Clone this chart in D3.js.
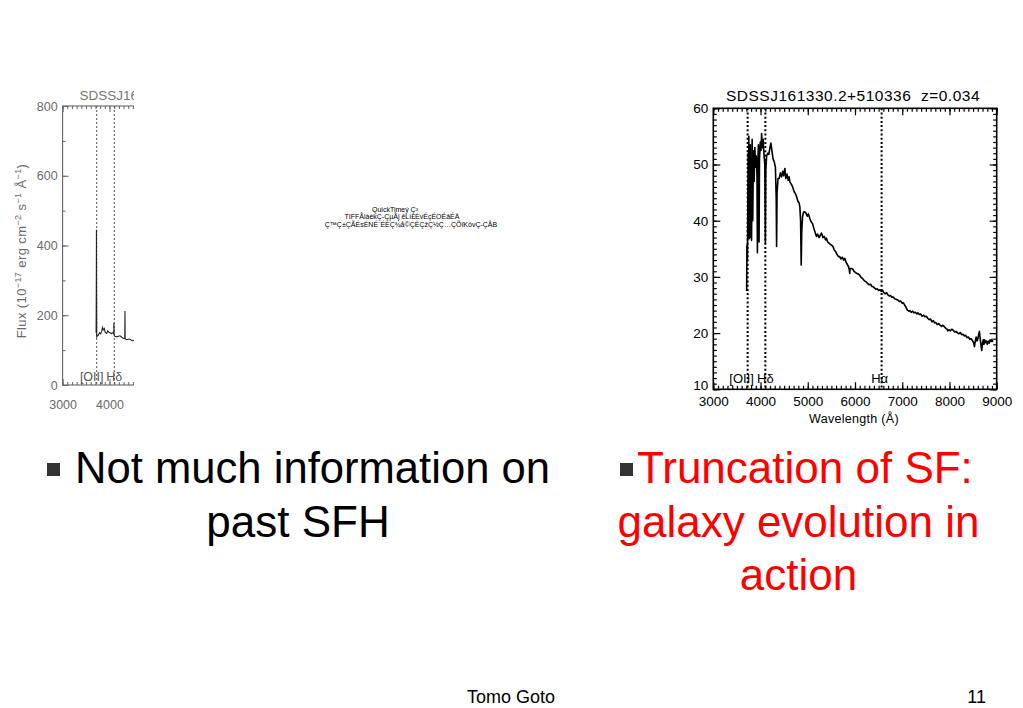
<!DOCTYPE html>
<html><head><meta charset="utf-8">
<script src="https://cdn.jsdelivr.net/npm/d3@7"></script>
<style>
body{margin:0;background:#fff}
svg{display:block}
text{font-family:"Liberation Sans",Arial,Helvetica,sans-serif;white-space:pre}
</style>
</head><body>
<svg id="c" width="1023" height="708"></svg>
<script>
// ---------------- data ----------------
const rightWave = [3706,3712,3720,3728,3738,3745,3752,3760,3768,3776,3784,3792,3800,3810,3822,3835,3850,3865,3880,3895,3910,3925,3934,3942,3955,3969,3978,3995,4010,4023,4040,4055,4075,4090,4102,4112,4128,4150,4175,4200,4219,4240,4265,4290,4315,4332,4340,4350,4370,4394,4420,4445,4470,4490,4515,4535,4560,4585,4605,4621,4650,4680,4710,4740,4762,4790,4815,4832,4848,4861,4872,4890,4910,4937,4960,4990,5015,5043,5070,5100,5130,5160,5185,5210,5240,5265,5290,5320,5350,5375,5396,5420,5450,5480,5510,5535,5560,5590,5620,5650,5677,5700,5730,5760,5783,5810,5840,5865,5880,5888,5896,5924,5950,5980,6010,6040,6070,6100,6130,6160,6190,6215,6241,6270,6300,6330,6355,6380,6416,6440,6470,6500,6530,6558,6585,6610,6640,6670,6697,6725,6750,6780,6810,6840,6870,6909,6940,6970,7000,7025,7050,7080,7110,7140,7160,7190,7220,7250,7280,7310,7331,7360,7390,7420,7450,7480,7510,7543,7570,7600,7630,7660,7684,7710,7740,7770,7800,7830,7860,7895,7925,7950,7965,7990,8020,8050,8080,8110,8140,8176,8200,8230,8260,8290,8318,8345,8370,8400,8430,8460,8490,8510,8529,8545,8565,8585,8600,8620,8635,8650,8665,8684,8700,8715,8730,8745,8760,8780,8800,8820,8840,8860,8882,8900,8916];
const rightFlux = [27.5,35.6,33.0,38.5,52.0,40.0,55.0,36.8,50.5,38.0,53.5,37.0,51.0,36.5,54.5,40.0,52.5,47.0,53.0,49.5,51.5,48.0,34.3,50.0,53.5,36.2,51.0,54.0,52.5,55.5,53.0,54.5,51.5,50.0,36.0,49.0,51.4,52.0,51.8,53.0,53.8,52.5,51.0,50.5,49.5,44.0,35.4,45.0,47.5,47.5,48.5,47.8,48.8,48.0,49.3,47.5,48.3,47.2,47.8,46.9,46.5,46.0,45.2,44.8,44.3,43.5,43.2,42.5,40.0,32.1,38.0,40.8,41.5,41.6,41.4,40.8,41.2,40.4,39.8,39.5,38.6,37.8,37.2,37.6,37.0,37.4,37.8,37.0,37.2,36.6,36.9,36.2,36.0,35.8,35.6,35.4,34.8,34.5,34.0,33.6,33.6,33.2,33.5,33.0,33.3,32.6,32.2,31.8,31.2,30.6,31.5,31.5,31.4,31.0,30.8,30.6,30.5,30.3,29.9,29.7,29.4,29.2,29.1,28.8,28.6,28.7,28.3,28.3,28.0,27.8,27.9,27.6,27.7,27.4,27.6,27.2,27.0,27.2,26.8,26.6,26.7,26.4,26.4,26.1,26.0,25.9,25.6,25.7,25.3,25.4,25.0,24.6,24.1,23.9,24.0,23.7,23.9,23.6,23.7,23.4,23.6,23.3,23.4,23.0,23.2,22.9,23.0,22.6,22.4,22.5,22.0,22.2,21.8,21.9,21.5,21.7,21.4,21.2,21.4,21.1,20.8,20.7,20.4,20.6,20.4,20.7,20.5,20.2,20.3,20.0,19.9,20.1,19.7,19.8,19.5,19.6,19.2,19.3,18.9,19.0,18.6,18.3,17.6,18.5,19.3,18.6,18.9,19.8,20.3,19.0,18.0,16.9,18.2,18.8,18.0,18.8,18.3,18.6,18.0,18.6,18.2,18.8,18.5,18.9,18.4];

const leftWave = [3714,3716,3719,3722,3725,3728,3740,3761,3790,3810,3834,3850,3868,3890,3910,3940,3960,3985,4011,4040,4060,4081,4090,4094,4098,4110,4153,4190,4224,4260,4294,4320,4326,4330,4334,4367,4400,4437,4470,4495,4540];
const leftFlux = [150,200,300,445,260,138,140,143,150,147,153,165,158,162,150,148,155,152,150,147,150,148,147,178,146,140,138,140,141,137,134,133,134,212,133,130,131,131,128,127,128];

const lineWaves = [3727, 4102, 6563];
const rightLineLabels = ["[OII]", "Hδ", "Hα"];
const leftLineLabels = ["[OII]", "Hδ"];
const xTickValues = [3000,4000,5000,6000,7000,8000,9000];
const xTickLabels = ["3000","4000","5000","6000","7000","8000","9000"];
const yTicksRight = [10,20,30,40,50,60];
const yTicksLeft = [0,200,400,600,800];
const rightTitle = "SDSSJ161330.2+510336  z=0.034";
const leftTitle = "SDSSJ16";
const placeholderLines = ["QuickTimeý Ç²", "TIFFÅiàèkÇ-ÇµÅj êLí£ÉvÉçÉOÉâÉÄ", "Ç™Ç±ÇÃÉsÉNÉ`ÉÉÇ¾å©ÇÈÇžÇ½Ç…ÇÕïKóvÇ-ÇÅB"];
const leftBullet = ["Not much information on", "past SFH"];
const rightBullet = ["Truncation of SF:", "galaxy evolution in", "action"];
const footerName = "Tomo Goto";
const pageNumber = "11";

// ---------------- drawing ----------------
const svg = d3.select("#c");
svg.append("rect").attr("width",1023).attr("height",708).attr("fill","#fff");

function frame(g, x, y, o){
  const [x0,x1]=x.range(), [y1,y0]=y.range();
  const mk = (axis, tr) => {
    const a = g.append("g").attr("transform",tr).call(axis);
    a.select(".domain").remove();
    a.selectAll("line").attr("stroke",o.color).attr("stroke-width",o.tw);
    a.selectAll("text").attr("fill",o.textColor).attr("font-size",o.fs).attr("font-family",null);
    return a;
  };
  mk(d3.axisBottom(x).tickValues(o.xMinor).tickSize(-o.minor).tickFormat(""), `translate(0,${y1})`);
  mk(d3.axisTop(x).tickValues(o.xMinor).tickSize(-o.minor).tickFormat(""), `translate(0,${y0})`);
  mk(d3.axisLeft(y).tickValues(o.yMinor).tickSize(-o.minor).tickFormat(""), `translate(${x0},0)`);
  mk(d3.axisRight(y).tickValues(o.yMinor).tickSize(-o.minor).tickFormat(""), `translate(${x1},0)`);
  mk(d3.axisBottom(x).tickValues(xTickValues).tickSize(-o.major).tickPadding(o.xPad).tickFormat((d,i)=>xTickLabels[i]), `translate(0,${y1})`);
  mk(d3.axisTop(x).tickValues(xTickValues).tickSize(-o.major).tickFormat(""), `translate(0,${y0})`);
  const ya = mk(d3.axisLeft(y).tickValues(o.yMajor).tickSize(-o.major).tickPadding(o.yPad).tickFormat(d3.format("d")), `translate(${x0},0)`);
  if (o.lowLabelDy) ya.selectAll("text").filter(d=>d===o.yMajor[0]).attr("dy", o.lowLabelDy);
  mk(d3.axisRight(y).tickValues(o.yMajor).tickSize(-o.major).tickFormat(""), `translate(${x1},0)`);
  g.append("rect").attr("x",x0).attr("y",y0).attr("width",x1-x0).attr("height",y1-y0)
    .attr("fill","none").attr("stroke",o.color).attr("stroke-width",o.fw);
}

// ----- right chart -----
const xR = d3.scaleLinear().domain([3000,9000]).range([713.3,996.7]);
const yR = d3.scaleLinear().domain([10,60]).range([389.3,108.3]);
const gR = svg.append("g");
frame(gR, xR, yR, {color:"#000", textColor:"#000", tw:1.2, fw:1.6, fs:13.5, major:7, minor:3.5,
  xMinor:d3.range(3000,9001,100), yMinor:d3.range(10,61,1), yMajor:yTicksRight, xPad:7.5, yPad:5, lowLabelDy:"0.02em"});
gR.selectAll(".lines").data(lineWaves).join("line")
  .attr("x1",d=>xR(d)).attr("x2",d=>xR(d)).attr("y1",yR(60)).attr("y2",yR(10))
  .attr("stroke","#000").attr("stroke-width",2).attr("stroke-dasharray","2,2.2");
const rOff=[-6,0,-2];
gR.selectAll(".ll").data(rightLineLabels).join("text")
  .attr("x",(d,i)=>xR(lineWaves[i])+rOff[i]).attr("y",383).attr("text-anchor","middle")
  .attr("font-size",13).attr("fill","#000").text(d=>d);
gR.append("path").datum(rightWave.map((w,i)=>[w,rightFlux[i]]))
  .attr("fill","none").attr("stroke","#000").attr("stroke-width",1.6).attr("stroke-linejoin","round")
  .attr("d", d3.line().x(d=>xR(d[0])).y(d=>yR(d[1])));
gR.append("text").attr("x",853).attr("y",101).attr("text-anchor","middle").attr("font-size",15.5)
  .attr("letter-spacing",0.5).attr("fill","#000").text(rightTitle);
gR.append("text").attr("x",854).attr("y",423).attr("text-anchor","middle").attr("font-size",12.5)
  .attr("letter-spacing",0.3).attr("fill","#000").text("Wavelength (Å)");

// ----- left chart (clipped image) -----
svg.append("clipPath").attr("id","clipL").append("rect").attr("x",0).attr("y",0).attr("width",134).attr("height",708);
const gL = svg.append("g").attr("clip-path","url(#clipL)");
const xL = d3.scaleLinear().domain([3000,9000]).range([62.6,62.6+6000*0.0469]);
const yL = d3.scaleLinear().domain([0,800]).range([385,106]);
frame(gL, xL, yL, {color:"#666", textColor:"#6a6a6a", tw:1, fw:1.1, fs:12.5, major:6, minor:3,
  xMinor:d3.range(3000,9001,100), yMinor:d3.range(0,801,100), yMajor:yTicksLeft, xPad:15, yPad:5});
gL.selectAll(".lines").data(lineWaves.slice(0,2)).join("line")
  .attr("x1",d=>xL(d)).attr("x2",d=>xL(d)).attr("y1",yL(800)).attr("y2",yL(0))
  .attr("stroke","#555").attr("stroke-width",1).attr("stroke-dasharray","2,2");
const lOff=[-5,0];
gL.selectAll(".ll").data(leftLineLabels).join("text")
  .attr("x",(d,i)=>xL(lineWaves[i])+lOff[i]).attr("y",381).attr("text-anchor","middle")
  .attr("font-size",12.5).attr("fill","#555").text(d=>d);
gL.append("path").datum(leftWave.map((w,i)=>[w,leftFlux[i]]))
  .attr("fill","none").attr("stroke","#222").attr("stroke-width",1.1)
  .attr("d", d3.line().x(d=>xL(d[0])).y(d=>yL(d[1])));
gL.append("text").attr("x",79.5).attr("y",100).attr("font-size",13.5).attr("fill","#777").text(leftTitle);
const yl = gL.append("text").attr("transform","translate(26,251) rotate(-90)").attr("text-anchor","middle")
  .attr("font-size",13).attr("fill","#6a6a6a").attr("letter-spacing",0.4);
const parts=[["Flux (10",0],["−17",1],[" erg cm",0],["−2",1],[" s",0],["−1",1],[" Å",0],["−1",1],[")",0]];
let sup=false;
parts.forEach(([t,s])=>{
  const ts = yl.append("tspan").text(t);
  if(s){ ts.attr("font-size",9).attr("dy", -5); sup=true; }
  else if(sup){ ts.attr("dy",5); sup=false; }
});

// ----- placeholder text -----
const ph = svg.append("g");
const phX=[395,402,411], phY=[212,219,226.5];
ph.selectAll("text").data(placeholderLines).join("text")
  .attr("x",(d,i)=>phX[i]).attr("y",(d,i)=>phY[i]).attr("text-anchor","middle")
  .attr("font-size",7).attr("fill","#000").text(d=>d);

// ----- bullets -----
svg.append("rect").attr("x",47).attr("y",463).attr("width",13).attr("height",13).attr("fill","#333");
svg.append("text").attr("x",75).attr("y",483).attr("font-size",44).attr("textLength",475).attr("lengthAdjust","spacingAndGlyphs").attr("fill","#000").text(leftBullet[0]);
svg.append("text").attr("x",298).attr("y",536.5).attr("text-anchor","middle").attr("font-size",44).attr("fill","#000").text(leftBullet[1]);
svg.append("rect").attr("x",620).attr("y",463).attr("width",13).attr("height",13).attr("fill","#333");
svg.append("text").attr("x",637).attr("y",483).attr("font-size",44).attr("fill","#ff0000").text(rightBullet[0]);
svg.append("text").attr("x",798.5).attr("y",536.5).attr("text-anchor","middle").attr("font-size",44).attr("fill","#ff0000").text(rightBullet[1]);
svg.append("text").attr("x",798.5).attr("y",590).attr("text-anchor","middle").attr("font-size",44).attr("fill","#ff0000").text(rightBullet[2]);

// ----- footer -----
svg.append("text").attr("x",511).attr("y",703).attr("text-anchor","middle").attr("font-size",18).attr("fill","#000").text(footerName);
svg.append("text").attr("x",986).attr("y",703).attr("text-anchor","end").attr("font-size",18).attr("fill","#000").text(pageNumber);
</script>
</body></html>
